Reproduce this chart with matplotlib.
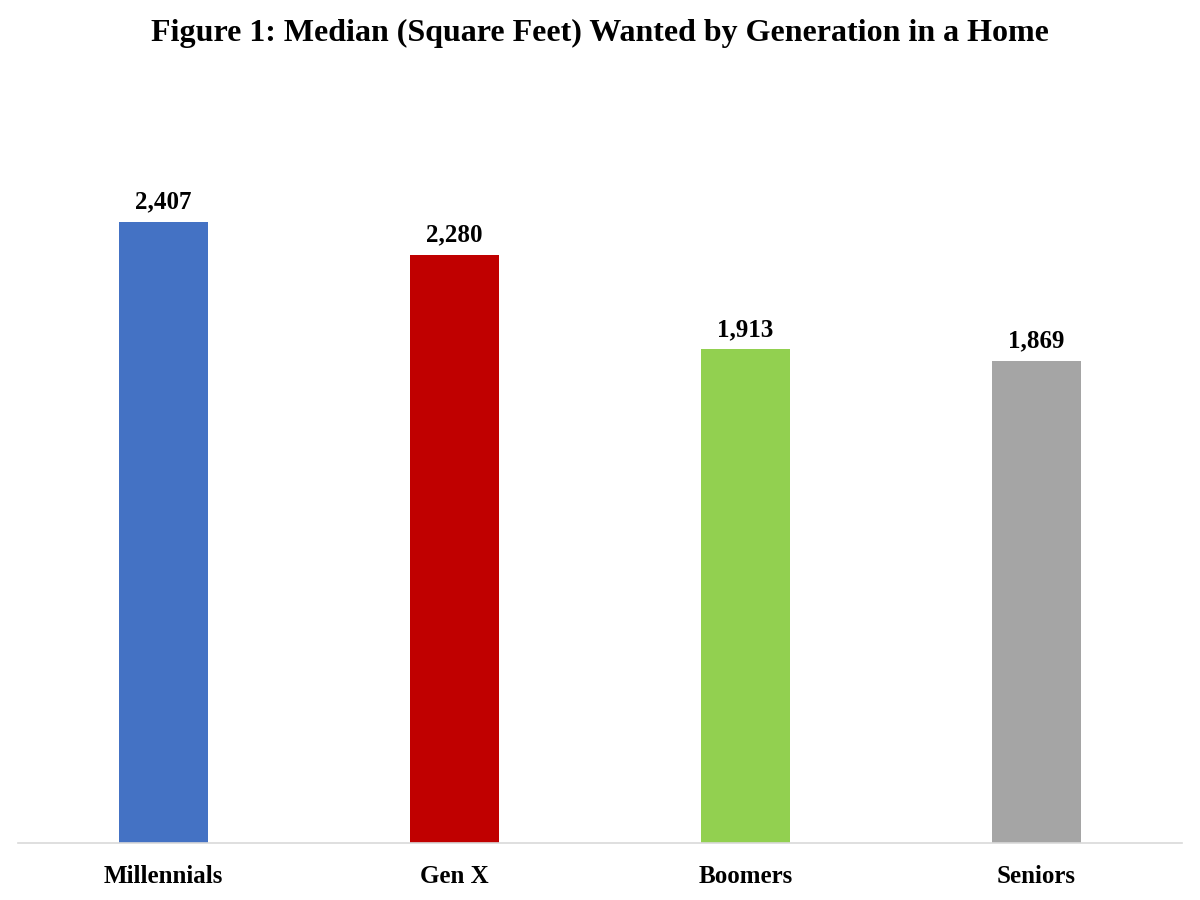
import matplotlib
matplotlib.use("Agg")
import matplotlib.pyplot as plt

categories = ["Millennials", "Gen X", "Boomers", "Seniors"]
values = [2407, 2280, 1913, 1869]
value_labels = ["2,407", "2,280", "1,913", "1,869"]
colors = ["#4472C4", "#C00000", "#92D050", "#A5A5A5"]
title = "Figure 1: Median (Square Feet) Wanted by Generation in a Home"

plt.rcParams['font.family'] = ['Liberation Serif', 'DejaVu Serif']

fig = plt.figure(figsize=(12, 9), dpi=100)
ax = fig.add_axes([0.015, 0.0633, 0.97, 0.86])
x = list(range(len(categories)))
ax.bar(x, values, width=0.306, color=colors, zorder=2)
for xi, v, lab in zip(x, values, value_labels):
    ax.annotate(lab, (xi, v), xytext=(0, 6), textcoords="offset points",
                ha="center", va="bottom", fontsize=18, fontweight="bold")
ax.set_xlim(-0.5, 3.5)
ax.set_ylim(0, 3000)
ax.set_xticks(x)
ax.set_xticklabels(categories, fontsize=18, fontweight="bold")
ax.tick_params(axis="x", length=0, pad=16)
ax.set_yticks([])
for s in ["top", "right", "left"]:
    ax.spines[s].set_visible(False)
ax.spines["bottom"].set_color("#D9D9D9")
ax.spines["bottom"].set_linewidth(1.2)
fig.text(0.5, 1 - 33/900, title, ha="center", va="center", fontsize=23, fontweight="bold")
fig.savefig("out.png", dpi=100)
